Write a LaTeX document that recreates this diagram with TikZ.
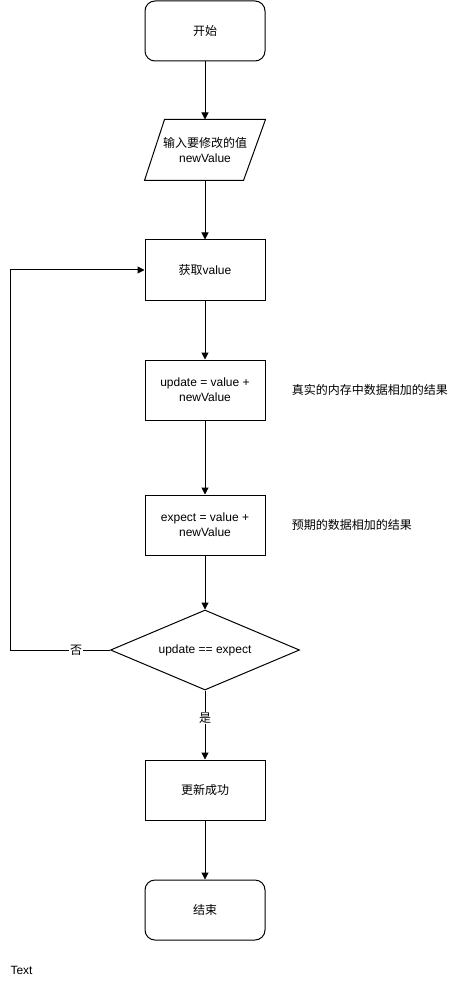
\documentclass[tikz,border=0pt]{standalone}
\usepackage{fontspec}
\setmainfont{Liberation Sans}
\newfontfamily\cjk{Noto Sans CJK SC}
\usetikzlibrary{arrows.meta,shapes.geometric,calc}
\begin{document}
\begin{tikzpicture}[x=1pt,y=-1pt,
  font=\fontsize{12}{15}\selectfont,
  line width=1pt,
  box/.style={draw,minimum width=120pt,minimum height=60pt,align=center,inner sep=0pt},
  rbox/.style={box,rounded corners=10pt},
  dia/.style={diamond,draw,minimum width=189pt,minimum height=80pt,inner sep=0pt,aspect=2.36},
  arr/.style={-{Triangle[length=7pt,width=7pt]}},
  lbl/.style={fill=white,inner sep=1pt}
]
\useasboundingbox (0,0) rectangle (460,981);
\node[rbox] (start) at (205,31) {{\cjk 开始}};
\node[box,draw=none] (input) at (205,150) {{\cjk 输入要修改的值}\\newValue};
\draw ($(input.north west)+(20,0)$) -- (input.north east) -- ($(input.south east)+(-22,0)$) -- (input.south west) -- cycle;
\node[box] (get) at (205,270) {{\cjk 获取}value};
\node[box] (upd) at (205,390) {update = value +\\newValue};
\node[box] (exp) at (205,525) {expect = value +\\newValue};
\node[dia] (cmp) at (205,650) {update == expect};
\node[box] (ok) at (205,790) {{\cjk 更新成功}};
\node[rbox] (end) at (205,910) {{\cjk 结束}};
\node[anchor=west] (n1) at (288,390) {{\cjk 真实的内存中数据相加的结果}};
\node[anchor=west] (n2) at (288,525) {{\cjk 预期的数据相加的结果}};
\node[anchor=west,inner sep=0pt] (txt) at (10,970) {Text};
\coordinate (c1) at (10,650);
\coordinate (c2) at (10,270);
\draw[arr] (start) -- (input);
\draw[arr] (input) -- (get);
\draw[arr] (get) -- (upd);
\draw[arr] (upd) -- (exp);
\draw[arr] (exp) -- (cmp);
\draw[arr] (cmp) -- node[lbl,pos=0.4] {{\cjk 是}} (ok);
\draw[arr] (ok) -- (end);
\draw[arr] (cmp.west) -- node[lbl,pos=0.34] {{\cjk 否}} (c1) -- (c2) -- (get.west);
\end{tikzpicture}
\end{document}
